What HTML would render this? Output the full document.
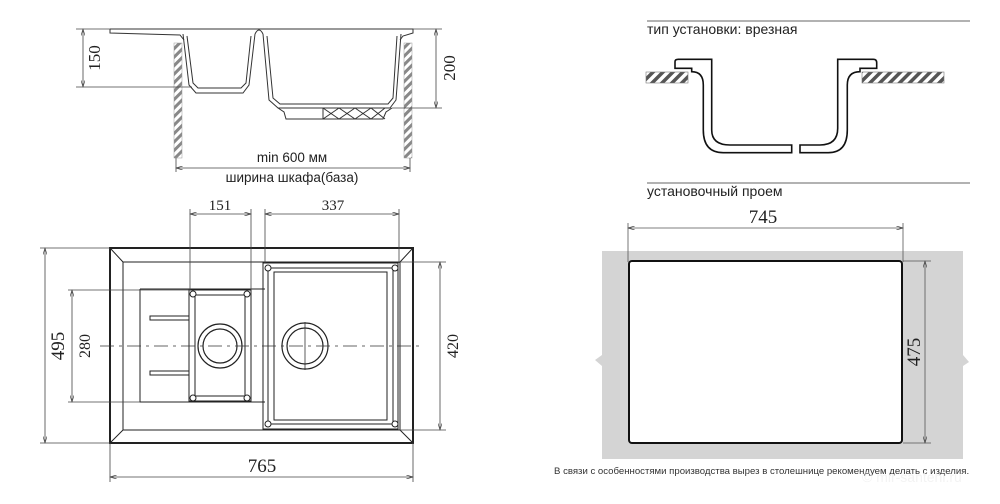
<!DOCTYPE html>
<html><head><meta charset="utf-8"><style>
html,body{margin:0;padding:0;background:#fff;}
svg{display:block;}
.s{font-family:"Liberation Sans",sans-serif;fill:#222;}
.n{font-family:"Liberation Serif",serif;fill:#222;}
</style></head><body>
<svg width="1000" height="504" viewBox="0 0 1000 504" xmlns="http://www.w3.org/2000/svg">
<defs>
<pattern id="h" width="6" height="6" patternUnits="userSpaceOnUse" patternTransform="rotate(45)">
<rect width="6" height="6" fill="#fff"/><rect width="3" height="6" fill="#888"/></pattern>
<pattern id="h2" width="7" height="7" patternUnits="userSpaceOnUse" patternTransform="rotate(45)">
<rect width="7" height="7" fill="#fff"/><rect width="3.5" height="7" fill="#555"/></pattern>
<marker id="a" viewBox="0 0 10 6" refX="10" refY="3" markerWidth="9" markerHeight="5" orient="auto-start-reverse"><path d="M0,0 L10,3 L0,6" fill="none" stroke="#444" stroke-width="1"/></marker>
</defs>

<g fill="none" stroke="#333" stroke-width="1">
<path d="M110,29 L413,29 L413,33 L403,36 L400,40"/>
<path d="M110,29 L110,33 L180,35 L184,40"/>
<path d="M183,34 L189,85 L196,93 L243,93 L249,85 L255,34"/>
<path d="M187,36 L193,83 L198,88 L241,88 L246,83 L251,36"/>
<path d="M255,34 Q259,26 263,34"/>
<path d="M263,34 L269,100 L278,108 L390,108 L396,100 L401,34"/>
<path d="M267,36 L273,98 L280,104 L388,104 L393,98 L397,36"/>
<path d="M278,108 L284,112 L286,119 L383,119 L386,112 L392,108"/>
<path d="M323,108 L323,119 M323,108 L339,119 M339,108 L323,119 M339,108 L355,119 M355,108 L339,119 M355,108 L371,119 M371,108 L355,119 M371,108 L385,119 M385,108 L371,119"/>
</g>
<rect x="174" y="43" width="8" height="115" fill="url(#h)" stroke="#999" stroke-width="0.5"/>
<rect x="404" y="43" width="8" height="115" fill="url(#h)" stroke="#999" stroke-width="0.5"/>
<g stroke="#444" stroke-width="0.8" fill="none">
<line x1="76" y1="29" x2="110" y2="29"/>
<line x1="76" y1="87" x2="192" y2="87"/>
<line x1="83" y1="29" x2="83" y2="87" marker-start="url(#a)" marker-end="url(#a)"/>
<line x1="413" y1="29" x2="442" y2="29"/>
<line x1="392" y1="108" x2="442" y2="108"/>
<line x1="436" y1="29" x2="436" y2="108" marker-start="url(#a)" marker-end="url(#a)"/>
<line x1="176" y1="158" x2="176" y2="172"/><line x1="410" y1="158" x2="410" y2="172"/>
<line x1="176" y1="168" x2="410" y2="168" marker-start="url(#a)" marker-end="url(#a)"/>
</g>
<text class="n" font-size="17" transform="translate(100,58) rotate(-90)" text-anchor="middle">150</text>
<text class="n" font-size="17" transform="translate(455,68) rotate(-90)" text-anchor="middle">200</text>
<text class="s" font-size="13.5" x="292" y="162" text-anchor="middle">min 600 мм</text>
<text class="s" font-size="13.5" x="292" y="182" text-anchor="middle">ширина шкафа(база)</text>

<g fill="none" stroke="#222">
<rect x="110" y="248" width="303" height="195" stroke-width="2"/>
<rect x="123" y="262" width="277" height="168" stroke-width="1"/>
<path d="M110,248 L123,262 M413,248 L400,262 M110,443 L123,430 M413,443 L400,430" stroke-width="1"/>
<path d="M140,289 L265,289 M140,289 L140,402 L265,402" stroke-width="1"/>
<rect x="189" y="290" width="62" height="111" stroke-width="1"/>
<rect x="195" y="295" width="50" height="101" stroke-width="1"/>
<rect x="263" y="263" width="135" height="166" stroke-width="1"/>
<rect x="268" y="268" width="125" height="156" stroke-width="1"/>
<rect x="274" y="272" width="113" height="148" stroke-width="1"/>
<circle cx="220" cy="346" r="22" stroke-width="1.2"/>
<circle cx="220" cy="346" r="17" stroke-width="1.2"/>
<circle cx="305" cy="346" r="23" stroke-width="1.2"/>
<circle cx="305" cy="346" r="18" stroke-width="1.2"/>
<rect x="150" y="316" width="39" height="4" stroke-width="1"/>
<rect x="150" y="371" width="39" height="4" stroke-width="1"/>
</g>
<g fill="#fff" stroke="#222" stroke-width="1">
<circle cx="193" cy="294" r="3"/><circle cx="247" cy="294" r="3"/><circle cx="193" cy="398" r="3"/><circle cx="247" cy="398" r="3"/>
<circle cx="268" cy="268" r="3"/><circle cx="395" cy="268" r="3"/><circle cx="268" cy="424" r="3"/><circle cx="395" cy="424" r="3"/>
</g>
<line x1="100" y1="346" x2="420" y2="346" stroke="#333" stroke-width="0.8" stroke-dasharray="14,5,3,5"/>
<line x1="305" y1="322" x2="305" y2="370" stroke="#333" stroke-width="0.8"/>
<g stroke="#444" stroke-width="0.8" fill="none">
<line x1="190" y1="209" x2="190" y2="290"/><line x1="251" y1="209" x2="251" y2="290"/>
<line x1="190" y1="214" x2="251" y2="214" marker-start="url(#a)" marker-end="url(#a)"/>
<line x1="265" y1="209" x2="265" y2="263"/><line x1="399" y1="209" x2="399" y2="263"/>
<line x1="265" y1="214" x2="399" y2="214" marker-start="url(#a)" marker-end="url(#a)"/>
<line x1="40" y1="248" x2="110" y2="248"/><line x1="40" y1="443" x2="110" y2="443"/>
<line x1="45" y1="248" x2="45" y2="443" marker-start="url(#a)" marker-end="url(#a)"/>
<line x1="68" y1="290" x2="190" y2="290"/><line x1="68" y1="402" x2="140" y2="402"/>
<line x1="72" y1="290" x2="72" y2="402" marker-start="url(#a)" marker-end="url(#a)"/>
<line x1="400" y1="262" x2="446" y2="262"/><line x1="400" y1="430" x2="446" y2="430"/>
<line x1="440" y1="262" x2="440" y2="430" marker-start="url(#a)" marker-end="url(#a)"/>
<line x1="110" y1="443" x2="110" y2="482"/><line x1="413" y1="443" x2="413" y2="482"/>
<line x1="110" y1="477" x2="413" y2="477" marker-start="url(#a)" marker-end="url(#a)"/>
</g>
<text class="n" font-size="15" x="220" y="210" text-anchor="middle">151</text>
<text class="n" font-size="15" x="333" y="210" text-anchor="middle">337</text>
<text class="n" font-size="19" transform="translate(64,346) rotate(-90)" text-anchor="middle">495</text>
<text class="n" font-size="16" transform="translate(90,346) rotate(-90)" text-anchor="middle">280</text>
<text class="n" font-size="16" transform="translate(458,346) rotate(-90)" text-anchor="middle">420</text>
<text class="n" font-size="19" x="262" y="472" text-anchor="middle">765</text>

<line x1="647" y1="21" x2="970" y2="21" stroke="#666" stroke-width="1"/>
<text class="s" font-size="14" x="647" y="34">тип установки: врезная</text>
<rect x="646" y="72" width="42" height="11" fill="url(#h2)" stroke="#777" stroke-width="0.6"/>
<rect x="862" y="72" width="82" height="11" fill="url(#h2)" stroke="#777" stroke-width="0.6"/>
<g fill="#fff" stroke="#111" stroke-width="1.6">
<path d="M675,68.3 L675,61.7 Q675,59.3 678.3,59.3 L711.7,59.3 L711.7,130 Q711.7,145 730,145 L791.7,145 L791.7,152.7 L723.3,152.7 Q703.3,152.7 703.3,130 L703.3,85 Q703.3,71.7 691.7,71.7 L691.7,68.3 Z"/>
<path d="M800,152.7 L800,145 L820,145 Q837.7,145 837.7,128.3 L837.7,59.3 L873.3,59.3 Q876.7,59.3 876.7,62.7 L876.7,68.3 L860,68.3 L860,71.7 Q847.3,71.7 847.3,85 L847.3,130 Q847.3,152.7 828.3,152.7 Z"/>
</g>

<line x1="647" y1="183" x2="970" y2="183" stroke="#666" stroke-width="1"/>
<text class="s" font-size="14" x="647" y="196">установочный проем</text>
<path d="M602,251 L963,251 L963,355 L969,362 L963,366 L963,459 L602,459 L602,366 L595,360 L602,355 Z" fill="#d4d4d4"/>
<rect x="629" y="261" width="273" height="182" rx="3" fill="#fff" stroke="#111" stroke-width="2"/>
<g stroke="#555" stroke-width="0.8" fill="none">
<line x1="628" y1="223" x2="628" y2="262"/><line x1="903" y1="223" x2="903" y2="262"/>
<line x1="628" y1="228" x2="903" y2="228" marker-start="url(#a)" marker-end="url(#a)"/>
<line x1="903" y1="261" x2="931" y2="261"/><line x1="903" y1="443" x2="931" y2="443"/>
<line x1="925" y1="261" x2="925" y2="443" marker-start="url(#a)" marker-end="url(#a)"/>
</g>
<text class="n" font-size="19" x="763" y="223" text-anchor="middle">745</text>
<text class="n" font-size="19" transform="translate(920,352) rotate(-90)" text-anchor="middle">475</text>
<text class="s" font-size="9.6" x="554" y="474" style="fill:#333">В связи с особенностями производства вырез в столешнице рекомендуем делать с изделия.</text>
<text class="s" font-size="14" x="862" y="482" style="fill:#f3f3f3">© mir-santehi.ru</text>
</svg>
</body></html>
